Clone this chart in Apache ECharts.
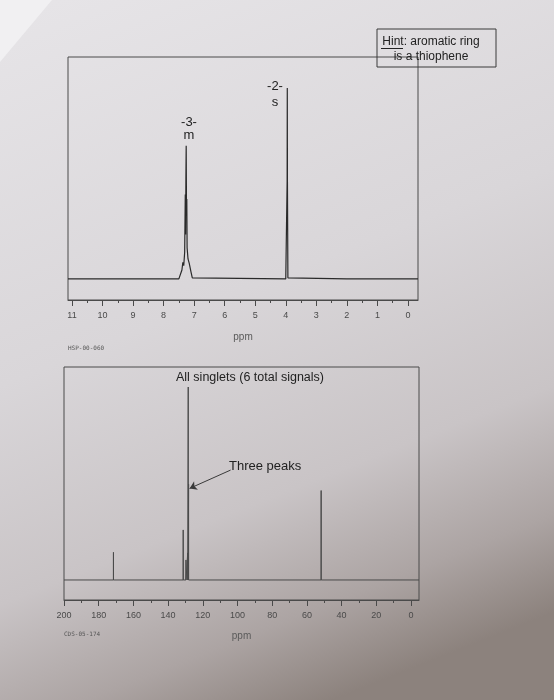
<!DOCTYPE html>
<html>
<head>
<meta charset="utf-8">
<script src="https://cdn.jsdelivr.net/npm/echarts@6/dist/echarts.min.js"></script>
<style>
  html, body { margin: 0; padding: 0; }
  #chart { width: 554px; height: 700px; }
</style>
</head>
<body>
<div id="chart"></div>
<script>
// 1H spectrum (ppm, relative intensity)
const hPpm = [11.13, 9.0, 7.50, 7.45, 7.40, 7.37, 7.34, 7.31, 7.29, 7.28, 7.27, 7.26, 7.25, 7.24, 7.23, 7.20, 7.16, 7.13, 7.10, 7.06, 7.00, 4.00, 3.97, 3.955, 3.95, 3.945, 3.93, 3.90, 2.0, -0.33];
const hInt = [0, 0, 0, 0.5, 4, 7.5, 6, 12, 38, 20, 45, 60, 30, 36, 14, 9, 7, 6.5, 3, 0.5, 0, 0, 0.5, 44, 86, 44, 0.5, 0, 0, 0];
const hMajorTicks = [11, 10, 9, 8, 7, 6, 5, 4, 3, 2, 1, 0];
const hMinorTicks = [10.5, 9.5, 8.5, 7.5, 6.5, 5.5, 4.5, 3.5, 2.5, 1.5, 0.5];

// 13C spectrum: stick peaks
const cPeaks = [171.5, 131.3, 129.7, 128.7, 128.4, 128.2, 51.8];
const cHeights = [13, 23.5, 9.4, 12.7, 90.6, 45, 42];
const cMajorTicks = [200, 180, 160, 140, 120, 100, 80, 60, 40, 20, 0];
const cMinorTicks = [190, 170, 150, 130, 110, 90, 70, 50, 30, 10];

const hData = hPpm.map((p, i) => [p, hInt[i]]);
const cData = [[200, 0]];
cPeaks.forEach((p, i) => {
  cData.push([p + 0.03, 0], [p, cHeights[i]], [p - 0.03, 0]);
});
cData.push([-4.6, 0]);

const chart = echarts.init(document.getElementById('chart'));

const tickLabel = { color: '#4a4a4a', fontSize: 9, fontFamily: 'Liberation Sans', margin: 11 };
const axisName = { color: '#5a5a5a', fontSize: 10, fontFamily: 'Liberation Sans' };

function majorAxis(grid, min, max, ticks, gap) {
  return {
    type: 'value', gridIndex: grid, position: 'bottom', inverse: true, min: min, max: max,
    axisLine: { show: true, onZero: false, lineStyle: { color: '#4a4a4a', width: 1 } },
    axisTick: { show: true, customValues: ticks, length: 6, lineStyle: { color: '#4a4a4a' } },
    axisLabel: Object.assign({ customValues: ticks }, tickLabel),
    splitLine: { show: false },
    name: 'ppm', nameLocation: 'middle', nameGap: gap, nameTextStyle: axisName
  };
}
function minorAxis(grid, min, max, ticks) {
  return {
    type: 'value', gridIndex: grid, position: 'bottom', inverse: true, min: min, max: max,
    axisLine: { show: false, onZero: false },
    axisTick: { show: true, customValues: ticks, length: 3, lineStyle: { color: '#4a4a4a' } },
    axisLabel: { show: false, customValues: ticks },
    splitLine: { show: false }
  };
}

chart.setOption({
  animation: false,
  backgroundColor: {
    type: 'linear', x: 0.1, y: 0, x2: 0.6, y2: 1,
    colorStops: [
      { offset: 0, color: '#e6e4e7' },
      { offset: 0.45, color: '#d9d6d9' },
      { offset: 0.72, color: '#c9c4c6' },
      { offset: 0.88, color: '#aca4a3' },
      { offset: 1, color: '#8c827d' }
    ]
  },
  grid: [
    { left: 68, top: 57, width: 350, height: 243, show: true, borderColor: '#4a4a4a', borderWidth: 1, backgroundColor: 'transparent' },
    { left: 64, top: 367, width: 355, height: 233, show: true, borderColor: '#4a4a4a', borderWidth: 1, backgroundColor: 'transparent' }
  ],
  xAxis: [
    majorAxis(0, -0.33, 11.13, hMajorTicks, 32),
    minorAxis(0, -0.33, 11.13, hMinorTicks),
    majorAxis(1, -4.6, 200, cMajorTicks, 31),
    minorAxis(1, -4.6, 200, cMinorTicks)
  ],
  yAxis: [
    { type: 'value', gridIndex: 0, min: -9.5, max: 100, show: false },
    { type: 'value', gridIndex: 1, min: -9.4, max: 100, show: false }
  ],
  series: [
    {
      type: 'line', xAxisIndex: 0, yAxisIndex: 0, data: hData,
      showSymbol: false, lineStyle: { color: '#2a2a2a', width: 1.2 }
    },
    {
      type: 'line', xAxisIndex: 2, yAxisIndex: 1, data: cData,
      showSymbol: false, lineStyle: { color: '#4a4a4a', width: 1 },
      markLine: {
        silent: true,
        symbol: ['none', 'arrow'], symbolSize: 7,
        lineStyle: { color: '#3a3a3a', width: 1, type: 'solid' },
        label: { show: false },
        data: [[{ coord: [104, 51.6] }, { coord: [127.6, 43] }]]
      }
    }
  ],
  graphic: [
    { type: 'polygon', shape: { points: [[0, 0], [52, 0], [0, 62]] }, style: { fill: '#f1f0f2' }, silent: true },
    // hint box
    { type: 'rect', shape: { x: 377, y: 29, width: 119, height: 38 }, style: { fill: 'transparent', stroke: '#3a3a3a', lineWidth: 1 } },
    { type: 'text', x: 431, y: 42, style: { text: 'Hint: aromatic ring', fill: '#222', font: '12px "Liberation Sans"', align: 'center', verticalAlign: 'middle' } },
    { type: 'text', x: 431, y: 57, style: { text: 'is a thiophene', fill: '#222', font: '12px "Liberation Sans"', align: 'center', verticalAlign: 'middle' } },
    { type: 'line', shape: { x1: 381, y1: 48.5, x2: 403, y2: 48.5 }, style: { stroke: '#222', lineWidth: 1 } },
    // 1H annotations
    { type: 'text', x: 189, y: 122, style: { text: '-3-', fill: '#222', font: '13px "Liberation Sans"', align: 'center', verticalAlign: 'middle' } },
    { type: 'text', x: 189, y: 135, style: { text: 'm', fill: '#222', font: '13px "Liberation Sans"', align: 'center', verticalAlign: 'middle' } },
    { type: 'text', x: 275, y: 86, style: { text: '-2-', fill: '#222', font: '13px "Liberation Sans"', align: 'center', verticalAlign: 'middle' } },
    { type: 'text', x: 275, y: 102, style: { text: 's', fill: '#222', font: '13px "Liberation Sans"', align: 'center', verticalAlign: 'middle' } },
    { type: 'text', x: 68, y: 348, style: { text: 'HSP-00-060', fill: '#555', font: '6px "DejaVu Sans Mono"', verticalAlign: 'middle' } },
    // 13C annotations
    { type: 'text', x: 250, y: 378, style: { text: 'All singlets (6 total signals)', fill: '#222', font: '12.5px "Liberation Sans"', align: 'center', verticalAlign: 'middle' } },
    { type: 'text', x: 229, y: 466, style: { text: 'Three peaks', fill: '#222', font: '13px "Liberation Sans"', verticalAlign: 'middle' } },
    { type: 'text', x: 64, y: 634, style: { text: 'CDS-05-174', fill: '#555', font: '6px "DejaVu Sans Mono"', verticalAlign: 'middle' } }
  ]
});
</script>
</body>
</html>
